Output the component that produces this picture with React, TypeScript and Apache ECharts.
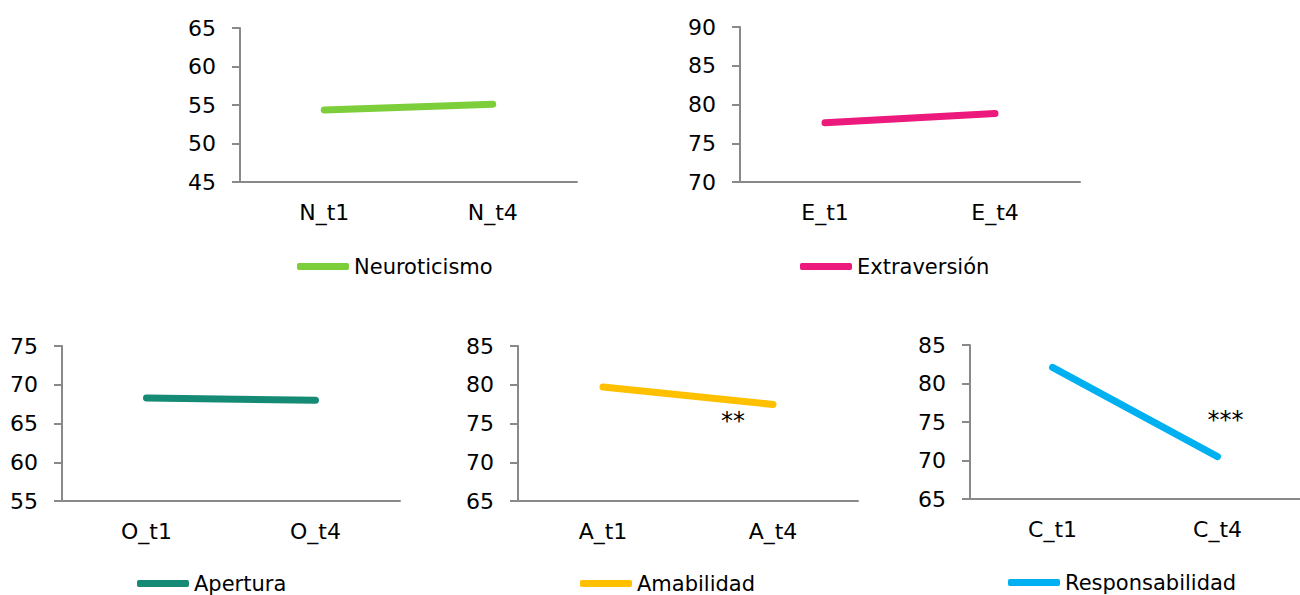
import React, { useEffect, useRef } from "react";
import * as echarts from "echarts";

// ---- data ----
const namesSeries = ["Neuroticismo", "Extraversión", "Apertura", "Amabilidad", "Responsabilidad"];
const catN = ["N_t1", "N_t4"];
const catE = ["E_t1", "E_t4"];
const catO = ["O_t1", "O_t4"];
const catA = ["A_t1", "A_t4"];
const catC = ["C_t1", "C_t4"];
const valN = [54.35, 55.1];
const valE = [77.65, 78.85];
const valO = [68.3, 68.0];
const valA = [79.7, 77.45];
const valC = [82.1, 70.5];
const axisMin = [45, 70, 55, 65, 65];
const axisMax = [65, 90, 75, 85, 85];
const axisStep = [5, 5, 5, 5, 5];
const signifText = ["", "", "", "**", "***"];
const signifAt = [null, null, null, 75.3, 75.3];

const cats = [catN, catE, catO, catA, catC];
const vals = [valN, valE, valO, valA, valC];

// ---- styling / layout ----
const colors = ["#7dce3b", "#ec1a7c", "#158a74", "#ffc000", "#00b0f0"];
const grids = [
  { left: 240, top: 28, width: 337, height: 154 },
  { left: 740, top: 27, width: 340, height: 155 },
  { left: 62, top: 346, width: 338, height: 155 },
  { left: 518, top: 346, width: 340, height: 155 },
  { left: 970, top: 345, width: 340, height: 154 },
];
const legendPos = [
  { left: 297, top: 256 },
  { left: 800, top: 256 },
  { left: 137, top: 573 },
  { left: 580, top: 573 },
  { left: 1008, top: 572 },
];
const signifOffset = [0, 0, 0, -40, 8];
const FONT = "DejaVu Sans";

export default function App() {
  const ref = useRef<HTMLDivElement>(null);
  useEffect(() => {
    if (!ref.current) return;
    const chart = echarts.init(ref.current, undefined, { renderer: "svg" });
    const axisColor = "#898989";
    const option: any = {
      animation: false,
      backgroundColor: "#ffffff",
      textStyle: { fontFamily: FONT },
      grid: grids.map((g) => ({ ...g, containLabel: false })),
      xAxis: cats.map((c, i) => ({
        type: "category",
        gridIndex: i,
        data: c,
        boundaryGap: true,
        axisTick: { show: false },
        axisLine: { show: true, lineStyle: { color: axisColor, width: 2 } },
        axisLabel: { color: "#000", fontSize: 22, fontFamily: FONT, margin: 19 },
        splitLine: { show: false },
      })),
      yAxis: cats.map((_, i) => ({
        type: "value",
        gridIndex: i,
        min: axisMin[i],
        max: axisMax[i],
        interval: axisStep[i],
        axisLine: { show: true, lineStyle: { color: axisColor, width: 2 } },
        axisTick: { show: true, inside: false, length: 8, lineStyle: { color: axisColor, width: 2 } },
        axisLabel: { color: "#000", fontSize: 22, fontFamily: FONT, margin: 24 },
        splitLine: { show: false },
      })),
      legend: namesSeries.map((n, i) => ({
        data: [n],
        left: legendPos[i].left,
        top: legendPos[i].top,
        padding: 0,
        itemWidth: 52,
        itemHeight: 7,
        icon: "roundRect",
        selectedMode: false,
        textStyle: { color: "#000", fontSize: 21, fontFamily: FONT },
      })),
      series: namesSeries.map((n, i) => {
        const s: any = {
          name: n,
          type: "line",
          xAxisIndex: i,
          yAxisIndex: i,
          data: vals[i],
          showSymbol: false,
          symbol: "none",
          color: colors[i],
          lineStyle: { color: colors[i], width: 7, cap: "round" },
          itemStyle: { color: colors[i] },
        };
        if (signifText[i]) {
          s.markPoint = {
            symbol: "circle",
            symbolSize: 1,
            itemStyle: { color: "rgba(0,0,0,0)" },
            label: {
              show: true,
              position: "inside",
              formatter: signifText[i],
              color: "#000",
              fontSize: 24,
              fontFamily: FONT,
              offset: [signifOffset[i], 0],
            },
            data: [{ coord: [cats[i][1], signifAt[i]] }],
          };
        }
        return s;
      }),
    };
    chart.setOption(option);
    return () => chart.dispose();
  }, []);
  return (
    <div
      ref={ref}
      style={{ position: "absolute", left: 0, top: 0, width: 1300, height: 595 }}
    />
  );
}
